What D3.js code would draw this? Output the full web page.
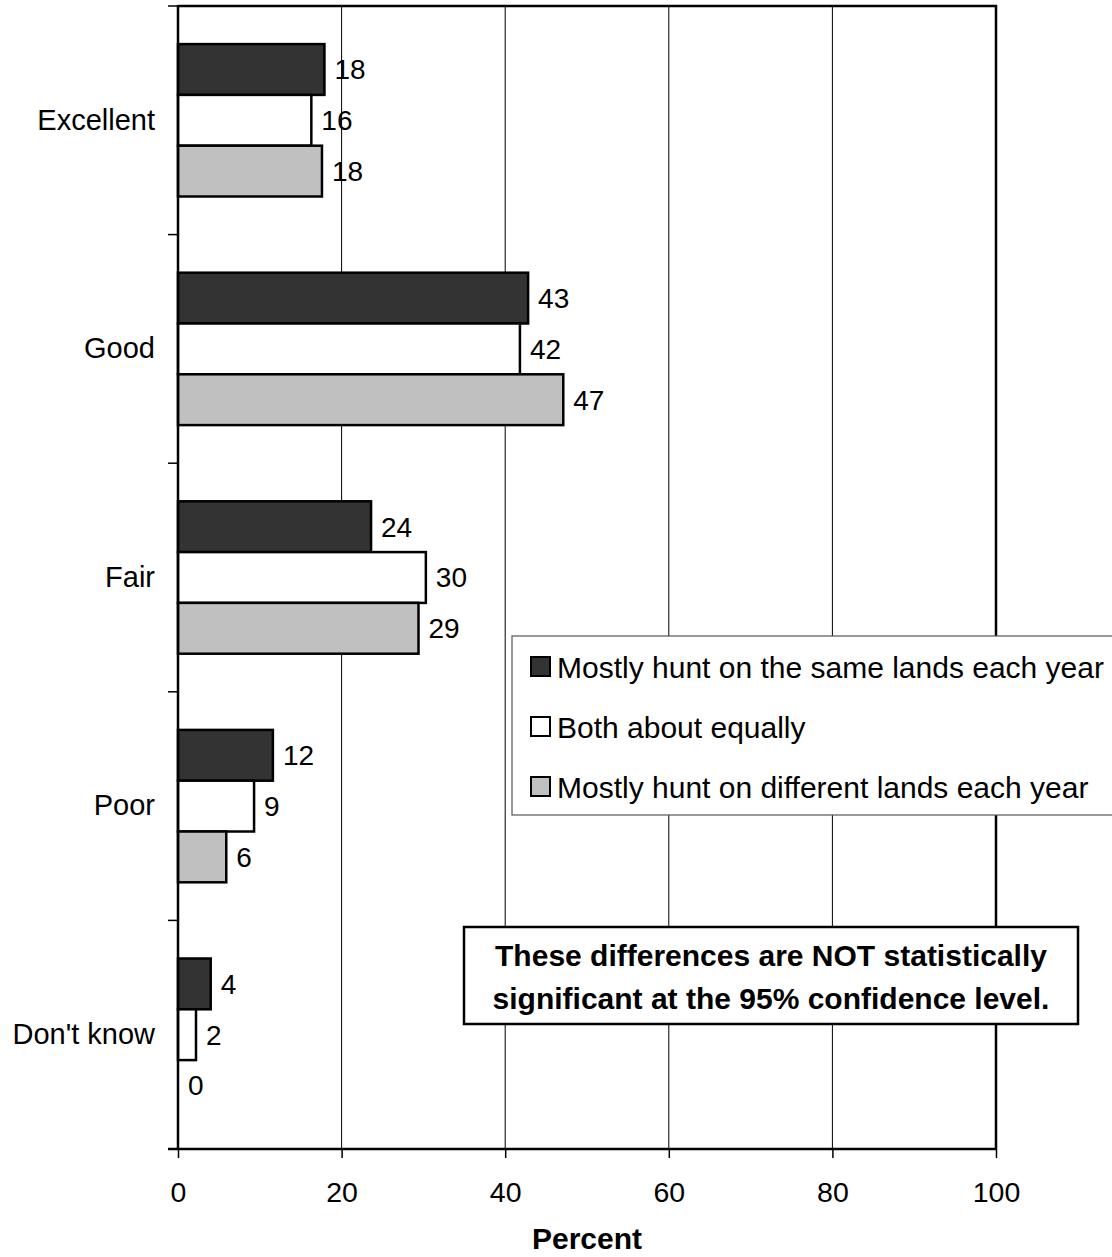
<!DOCTYPE html>
<html>
<head>
<meta charset="utf-8">
<script src="https://cdn.jsdelivr.net/npm/d3@7"></script>
<style>
  body { margin: 0; background: #fff; }
  svg { display: block; font-family: "Liberation Sans", Arial, sans-serif; }
</style>
</head>
<body>
<svg id="chart" width="1112" height="1257"></svg>
<script>
// categories and series
var categories = ["Excellent", "Good", "Fair", "Poor", "Don't know"];
var seriesNames = [
  "Mostly hunt on the same lands each year",
  "Both about equally",
  "Mostly hunt on different lands each year"
];
var sameLands = [17.9, 42.8, 23.6, 11.6, 4.0];
var bothEqually = [16.3, 41.8, 30.3, 9.3, 2.2];
var differentLands = [17.6, 47.1, 29.4, 5.9, 0];
var xTicks = [0, 20, 40, 60, 80, 100];
var noteLines = [
  "These differences are NOT statistically",
  "significant at the 95% confidence level."
];

(function() {
  var colors = ["#333333", "#ffffff", "#c0c0c0"];
  var seriesValues = [sameLands, bothEqually, differentLands];

  var svg = d3.select("#chart");
  var plotLeft = 178, plotRight = 996, plotTop = 6, plotBottom = 1149;
  var fontSize = 28, bigFont = 30;

  // scales
  var xScale = d3.scaleLinear().domain([0, 100]).range([plotLeft, plotRight]);
  var yScale = d3.scaleBand().domain(categories).range([plotTop, plotBottom]).padding(0);
  var ySub = d3.scaleBand().domain(d3.range(seriesNames.length))
    .range([0, yScale.bandwidth()]).paddingInner(0).paddingOuter(0.75);

  // vertical grid lines
  svg.append("g")
    .selectAll("line")
    .data(xTicks.filter(function(d) { return d > 0 && d < 100; }))
    .enter().append("line")
    .attr("x1", function(d) { return xScale(d); })
    .attr("x2", function(d) { return xScale(d); })
    .attr("y1", plotTop).attr("y2", plotBottom)
    .attr("stroke", "#000").attr("stroke-width", 1);

  // top and right border
  svg.append("path")
    .attr("d", "M" + plotLeft + "," + plotTop + "H" + xScale(100) + "V" + plotBottom)
    .attr("fill", "none").attr("stroke", "#000").attr("stroke-width", 2.5);

  // bars
  var data = [];
  categories.forEach(function(c, i) {
    seriesValues.forEach(function(vals, s) {
      data.push({ cat: c, s: s, v: vals[i] });
    });
  });

  var bars = svg.append("g").selectAll("g").data(data).enter().append("g");

  bars.filter(function(d) { return d.v > 0; })
    .append("rect")
    .attr("x", xScale(0))
    .attr("y", function(d) { return yScale(d.cat) + ySub(d.s); })
    .attr("width", function(d) { return xScale(d.v) - xScale(0); })
    .attr("height", ySub.bandwidth())
    .attr("fill", function(d) { return colors[d.s]; })
    .attr("stroke", "#000").attr("stroke-width", 2.5);

  bars.append("text")
    .attr("x", function(d) { return xScale(d.v) + 10; })
    .attr("y", function(d) { return yScale(d.cat) + ySub(d.s) + ySub.bandwidth() / 2; })
    .attr("dy", "0.35em")
    .attr("font-size", fontSize)
    .text(function(d) { return d3.format(".0f")(d.v); });

  // x axis
  var xAxis = d3.axisBottom(xScale).tickValues(xTicks).tickSize(9).tickPadding(24);
  var gx = svg.append("g").attr("transform", "translate(0," + plotBottom + ")").call(xAxis);
  gx.select(".domain").attr("stroke-width", 2.5).attr("d", "M" + (plotLeft - 10) + ",0H" + plotRight);
  gx.selectAll(".tick line").attr("stroke-width", 1.5);
  gx.selectAll("text").attr("font-size", 28.5).attr("font-family", null).attr("fill", "#000");

  // y axis: labels at band centers, ticks at band edges
  var yAxis = d3.axisLeft(yScale).tickSize(0).tickPadding(23);
  var gy = svg.append("g").attr("transform", "translate(" + plotLeft + ",0)").call(yAxis);
  gy.select(".domain").attr("stroke-width", 2.5).attr("d", "M0," + (plotTop - 1) + "V" + plotBottom);
  gy.selectAll("text").attr("font-size", 29).attr("font-family", null).attr("fill", "#000");
  svg.append("g").selectAll("line")
    .data(categories.map(function(c) { return yScale(c); }).concat([plotBottom]))
    .enter().append("line")
    .attr("x1", plotLeft - 10).attr("x2", plotLeft)
    .attr("y1", function(d) { return d; }).attr("y2", function(d) { return d; })
    .attr("stroke", "#000").attr("stroke-width", 1.5);

  // x axis title
  svg.append("text")
    .attr("x", (plotLeft + plotRight) / 2).attr("y", 1249)
    .attr("text-anchor", "middle").attr("font-weight", "bold")
    .attr("font-size", bigFont).text("Percent");

  // legend
  var legend = svg.append("g");
  legend.append("rect")
    .attr("x", 512).attr("y", 636).attr("width", 620).attr("height", 179)
    .attr("fill", "#fff").attr("stroke", "#555").attr("stroke-width", 1.2);
  var items = legend.selectAll("g.item").data(seriesNames).enter().append("g")
    .attr("transform", function(d, i) { return "translate(531," + (657 + i * 60) + ")"; });
  items.append("rect")
    .attr("width", 19).attr("height", 19)
    .attr("fill", function(d, i) { return colors[i]; })
    .attr("stroke", "#000").attr("stroke-width", 2);
  items.append("text")
    .attr("x", 26).attr("y", 10).attr("dy", "0.35em")
    .attr("font-size", bigFont).text(function(d) { return d; });

  // note box
  var note = svg.append("g");
  note.append("rect")
    .attr("x", 464).attr("y", 927).attr("width", 614).attr("height", 97)
    .attr("fill", "#fff").attr("stroke", "#000").attr("stroke-width", 2.5);
  note.selectAll("text").data(noteLines).enter().append("text")
    .attr("x", 771).attr("y", function(d, i) { return 966 + i * 43; })
    .attr("text-anchor", "middle").attr("font-weight", "bold")
    .attr("font-size", bigFont).text(function(d) { return d; });
})();
</script>
</body>
</html>
